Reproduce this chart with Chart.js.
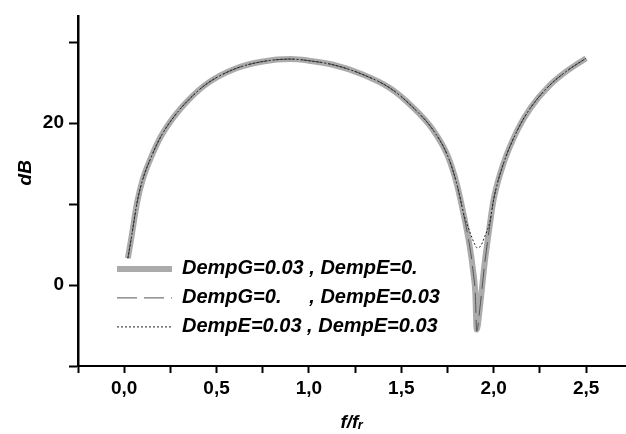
<!DOCTYPE html>
<html>
<head>
<meta charset="utf-8">
<script src="https://cdn.jsdelivr.net/npm/chart.js@4/dist/chart.umd.min.js"></script>
<style>
  html, body { margin: 0; padding: 0; background: #fff; overflow: hidden; }
</style>
</head>
<body>
<canvas id="dbChart" width="626" height="434"></canvas>
<script>
// f/fr sample positions, shared by all three curves
const freqRatio = [0.02, 0.04, 0.07, 0.10, 0.15, 0.20, 0.27, 0.35, 0.45, 0.60,
                   0.75, 0.90, 1.00, 1.13, 1.28, 1.44, 1.56, 1.67, 1.75, 1.80,
                   1.84, 1.87, 1.89, 1.90, 1.908, 1.925, 1.95, 1.98, 2.00, 2.05,
                   2.13, 2.20, 2.30, 2.40, 2.50];

// DempG=0.03 , DempE=0.
const dbDampG = [3.3, 6.0, 10.2, 13.0, 16.0, 18.4, 20.8, 22.9, 24.9, 26.7,
                 27.6, 27.9, 27.7, 27.2, 26.1, 24.3, 22.0, 19.2, 16.0, 12.5,
                 8.4, 4.8, 1.5, -0.8, -5.5, -2.8, 2.5, 7.6, 10.6, 14.8,
                 19.2, 21.9, 24.6, 26.5, 28.0];

// DempG=0. , DempE=0.03
const dbDampE = [3.3, 6.0, 10.2, 13.0, 16.0, 18.4, 20.8, 22.9, 24.9, 26.7,
                 27.6, 27.9, 27.7, 27.2, 26.1, 24.3, 22.0, 19.2, 16.0, 12.5,
                 8.4, 4.8, 1.4, -1.0, -5.7, -2.9, 2.4, 7.6, 10.6, 14.8,
                 19.2, 21.9, 24.6, 26.5, 28.0];

// DempE=0.03 , DempE=0.03
const dbDampBoth = [3.3, 6.0, 10.2, 13.0, 16.0, 18.4, 20.8, 22.9, 24.9, 26.7,
                    27.6, 27.9, 27.7, 27.2, 26.1, 24.3, 22.0, 19.2, 16.0, 12.5,
                    8.6, 6.6, 5.4, 4.9, 4.6, 4.7, 5.9, 7.9, 10.6, 14.8,
                    19.2, 21.9, 24.6, 26.5, 28.0];

const seriesNames = ['DempG=0.03 , DempE=0.',
                     'DempG=0.     , DempE=0.03',
                     'DempE=0.03 , DempE=0.03'];

const FONT = "'Liberation Sans', Arial, sans-serif";

function toPoints(ys) {
    return freqRatio.map((x, i) => ({ x: x, y: ys[i] }));
}

// legend sits inside the plot, lower left
const legendInside = {
    id: 'legendInside',
    afterLayout(chart) {
        const legend = chart.legend;
        const area = chart.chartArea;
        legend.left = area.left + 30;
        legend.top = area.top + 233.5;
        legend.right = legend.left + legend.width;
        legend.bottom = legend.top + legend.height;
    }
};

// point-style legend items lose the dataset dash, put it back
function lineLegendLabels(chart) {
    const items = Chart.defaults.plugins.legend.labels.generateLabels(chart);
    items.forEach(item => {
        const ds = chart.data.datasets[item.datasetIndex];
        item.lineDash = ds.borderDash || [];
        item.lineWidth = ds.borderWidth;
        item.strokeStyle = ds.borderColor;
    });
    return items;
}

const ctx = document.getElementById('dbChart').getContext('2d');

new Chart(ctx, {
    type: 'line',
    data: {
        datasets: [{
            label: seriesNames[0],
            data: toPoints(dbDampG),
            borderColor: '#ababab',
            borderWidth: 6,
            pointRadius: 0,
            cubicInterpolationMode: 'monotone',
            order: 3
        }, {
            label: seriesNames[1],
            data: toPoints(dbDampE),
            borderColor: '#555555',
            borderWidth: 1,
            borderDash: [20, 7],
            pointRadius: 0,
            cubicInterpolationMode: 'monotone',
            order: 2
        }, {
            label: seriesNames[2],
            data: toPoints(dbDampBoth),
            borderColor: '#222222',
            borderWidth: 1,
            borderDash: [2, 2],
            pointRadius: 0,
            cubicInterpolationMode: 'monotone',
            order: 1
        }]
    },
    options: {
        responsive: false,
        animation: false,
        layout: {
            padding: { top: 12, right: 0, bottom: 0, left: 0 }
        },
        plugins: {
            tooltip: { enabled: false },
            legend: {
                position: 'chartArea',
                align: 'start',
                labels: {
                    usePointStyle: true,
                    pointStyle: 'line',
                    pointStyleWidth: 55,
                    padding: 9,
                    color: '#000',
                    generateLabels: lineLegendLabels,
                    sort: (a, b) => a.datasetIndex - b.datasetIndex,
                    font: { family: FONT, size: 20, weight: 'bold', style: 'italic' }
                }
            }
        },
        scales: {
            x: {
                type: 'linear',
                min: -0.25,
                max: 2.716,
                afterFit: (scale) => { scale.height = 68; },
                border: { color: '#000', width: 2 },
                grid: {
                    drawOnChartArea: false,
                    tickLength: 7,
                    tickWidth: 2,
                    tickColor: '#000'
                },
                ticks: {
                    stepSize: 0.25,
                    includeBounds: false,
                    autoSkip: false,
                    maxRotation: 0,
                    padding: 4,
                    color: '#000',
                    font: { family: FONT, size: 19, weight: 'bold' },
                    callback: function(value) {
                        const half = value * 2;
                        if (Math.abs(half - Math.round(half)) > 1e-6) return '';
                        return value.toFixed(1).replace('.', ',');
                    }
                },
                title: {
                    display: true,
                    text: 'f/f\u1D63',
                    color: '#000',
                    padding: { top: 0, bottom: 0 },
                    font: { family: FONT, size: 19, weight: 'bold', style: 'italic' }
                }
            },
            y: {
                min: -10,
                max: 33.17,
                afterFit: (scale) => { scale.width = 78; },
                border: { color: '#000', width: 2.5 },
                grid: {
                    drawOnChartArea: false,
                    tickLength: 9,
                    tickWidth: 2,
                    tickColor: '#000'
                },
                ticks: {
                    stepSize: 10,
                    includeBounds: false,
                    autoSkip: false,
                    padding: 5,
                    color: '#000',
                    font: { family: FONT, size: 19, weight: 'bold' },
                    callback: function(value) {
                        return value % 20 === 0 ? String(value) : '';
                    }
                },
                title: {
                    display: true,
                    text: '       dB',
                    color: '#000',
                    padding: { top: 14, bottom: 0 },
                    font: { family: FONT, size: 19, weight: 'bold', style: 'italic' }
                }
            }
        }
    },
    plugins: [legendInside]
});
</script>
</body>
</html>
